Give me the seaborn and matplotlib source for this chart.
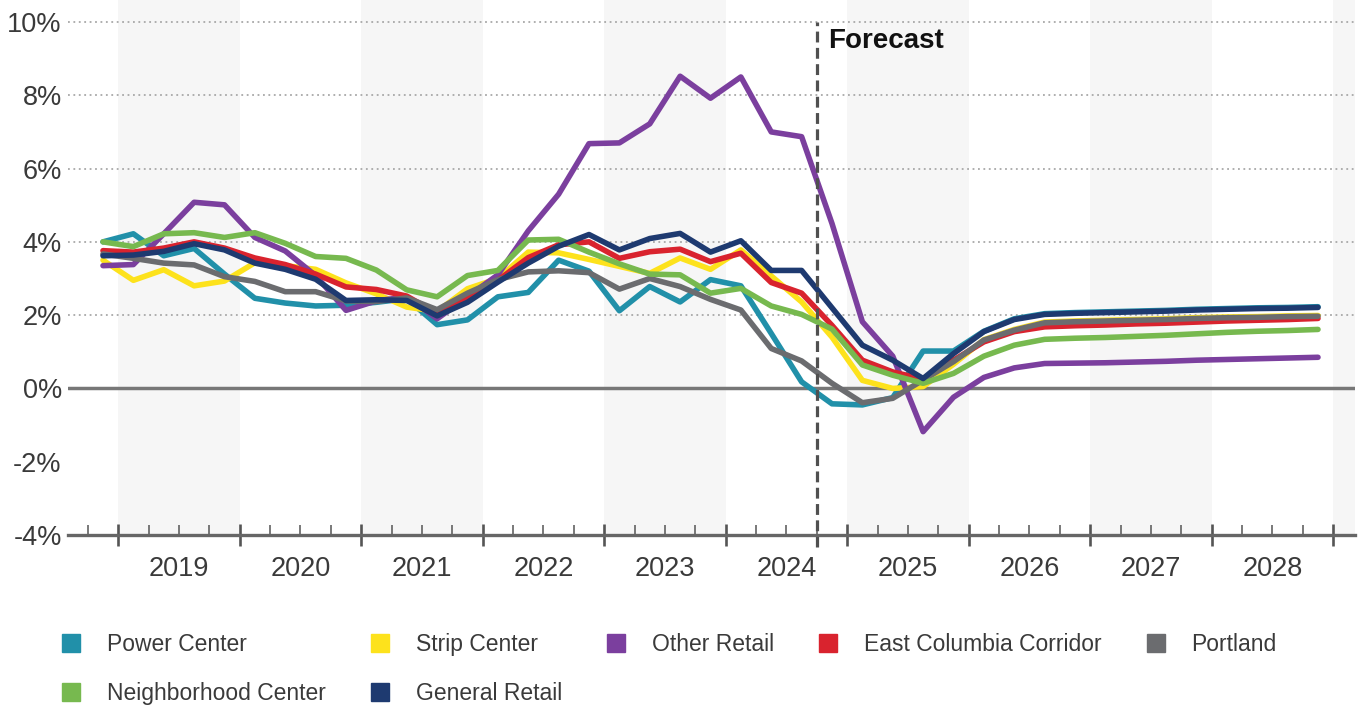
import matplotlib
matplotlib.use("Agg")
import matplotlib.pyplot as plt
from matplotlib.lines import Line2D
from matplotlib.transforms import blended_transform_factory
import pandas as pd
import seaborn as sns

# Quarterly retail rent growth, 2018 Q4 through 2028 Q4 (percent)
periods = pd.period_range("2018Q4", "2028Q4", freq="Q")
years = [2019, 2020, 2021, 2022, 2023, 2024, 2025, 2026, 2027, 2028]
forecast_start = pd.Period("2024Q4", freq="Q")

power_center = [4.00, 4.22, 3.62, 3.82, 3.12, 2.46, 2.33, 2.25, 2.27, 2.35,
                2.45, 1.74, 1.87, 2.50, 2.62, 3.50, 3.20, 2.12, 2.78, 2.36,
                2.97, 2.80, 1.50, 0.18, -0.42, -0.45, -0.25, 1.02, 1.02, 1.56,
                1.90, 2.04, 2.07, 2.09, 2.11, 2.13, 2.16, 2.18, 2.20, 2.21, 2.23]
strip_center = [3.50, 2.95, 3.24, 2.80, 2.93, 3.43, 3.35, 3.25, 2.88, 2.58,
                2.22, 2.10, 2.72, 3.00, 3.72, 3.70, 3.52, 3.33, 3.14, 3.56,
                3.25, 3.78, 3.07, 2.36, 1.40, 0.22, 0.00, 0.05, 0.66, 1.33,
                1.61, 1.81, 1.84, 1.86, 1.88, 1.90, 1.93, 1.95, 1.96, 1.98, 1.99]
other_retail = [3.35, 3.38, 4.22, 5.08, 5.01, 4.12, 3.75, 3.08, 2.13, 2.39,
                2.50, 1.90, 2.50, 3.10, 4.30, 5.30, 6.68, 6.70, 7.22, 8.52,
                7.92, 8.50, 7.00, 6.87, 4.50, 1.82, 0.88, -1.18, -0.24, 0.30,
                0.56, 0.68, 0.69, 0.70, 0.72, 0.74, 0.77, 0.79, 0.81, 0.83, 0.85]
east_columbia = [3.76, 3.72, 3.83, 4.00, 3.83, 3.56, 3.38, 3.12, 2.77, 2.70,
                 2.52, 2.05, 2.50, 2.95, 3.57, 3.92, 4.00, 3.55, 3.73, 3.80,
                 3.46, 3.69, 2.89, 2.60, 1.72, 0.77, 0.45, 0.25, 0.77, 1.27,
                 1.55, 1.68, 1.71, 1.73, 1.76, 1.78, 1.81, 1.84, 1.86, 1.88, 1.91]
portland = [3.67, 3.55, 3.42, 3.37, 3.05, 2.92, 2.64, 2.64, 2.39, 2.37,
            2.47, 2.15, 2.60, 2.97, 3.18, 3.21, 3.16, 2.71, 3.00, 2.78,
            2.43, 2.14, 1.09, 0.75, 0.14, -0.39, -0.27, 0.23, 0.73, 1.32,
            1.59, 1.79, 1.82, 1.84, 1.86, 1.88, 1.91, 1.93, 1.94, 1.96, 1.97]
neighborhood_center = [4.00, 3.87, 4.22, 4.25, 4.12, 4.25, 3.96, 3.60, 3.55, 3.23,
                       2.69, 2.50, 3.08, 3.22, 4.05, 4.07, 3.72, 3.40, 3.12, 3.10,
                       2.60, 2.73, 2.25, 2.02, 1.62, 0.64, 0.36, 0.14, 0.41, 0.88,
                       1.18, 1.34, 1.37, 1.39, 1.42, 1.45, 1.49, 1.53, 1.56, 1.58, 1.61]
general_retail = [3.62, 3.64, 3.74, 3.95, 3.78, 3.42, 3.25, 2.98, 2.40, 2.42,
                  2.40, 1.98, 2.35, 2.90, 3.42, 3.88, 4.20, 3.78, 4.09, 4.23,
                  3.72, 4.03, 3.22, 3.22, 2.20, 1.18, 0.77, 0.27, 0.95, 1.55,
                  1.88, 2.02, 2.05, 2.07, 2.09, 2.11, 2.14, 2.16, 2.18, 2.19, 2.21]

series_names = ["Power Center", "Strip Center", "Other Retail",
                "East Columbia Corridor", "Portland", "Neighborhood Center",
                "General Retail"]
series_values = [power_center, strip_center, other_retail, east_columbia,
                 portland, neighborhood_center, general_retail]
series_colors = ["#2190a9", "#fde21c", "#7b3f9e", "#d9232e", "#6b6c6f",
                 "#77b94f", "#1e3a70"]

# quarter index: 0 = 2018 Q4
start = periods[0]
rows = []
for name, vals in zip(series_names, series_values):
    for p, v in zip(periods, vals):
        rows.append({"q": (p - start).n, "growth": v, "series": name})
df = pd.DataFrame(rows)

sns.set_style("white")
plt.rcParams["font.family"] = ["Liberation Sans", "DejaVu Sans"]

W, H = 1359, 707
fig = plt.figure(figsize=(W / 100, H / 100), dpi=100)
ax = fig.add_axes([68 / W, 1 - 535 / H, (1355 - 68) / W, 535 / H])

x_left, x_right = -1.152, 41.218
ax.set_xlim(x_left, x_right)
ax.set_ylim(-4, 10.6)

# alternating year bands
for k in range(6):
    ax.axvspan(0.5 + 8 * k, 4.5 + 8 * k, color="#f6f6f6", lw=0, zorder=0)

# dotted gridlines and solid zero line
for g in [2, 4, 6, 8, 10]:
    ax.axhline(g, color="#a8a8a8", lw=1.3, ls=(0, (1, 2)), zorder=1)
ax.axhline(0, color="#777777", lw=2.5, zorder=1)

sns.lineplot(data=df, x="q", y="growth", hue="series", hue_order=series_names,
             palette=dict(zip(series_names, series_colors)), linewidth=4.0,
             legend=False, ax=ax, zorder=3, solid_capstyle="round")

# forecast divider
fx = (forecast_start - start).n - 0.5
ax.axvline(fx, ymin=-0.023, ymax=0.959, color="#505050", lw=2.3,
           dashes=(3.4, 1.7), clip_on=False, zorder=4)
ax.text(fx + 0.36, 9.48, "Forecast", fontsize=20, fontweight="bold",
        color="#111111", ha="left", va="center")

# axes styling
for s in ["top", "right", "left"]:
    ax.spines[s].set_visible(False)
ax.spines["bottom"].set_color("#666666")
ax.spines["bottom"].set_linewidth(2.4)
ax.spines["bottom"].set_zorder(5)

major = [0.5 + 4 * k for k in range(11)]
minor = [-0.5 + k for k in range(42) if (-0.5 + k) not in major]
ax.set_xticks(major)
ax.set_xticks(minor, minor=True)
ax.set_xticklabels([])
ax.xaxis.set_ticks_position("bottom")
ax.tick_params(axis="x", which="major", bottom=True, direction="inout",
               length=16, width=1.9, color="#555555")
ax.tick_params(axis="x", which="minor", bottom=True, direction="in",
               length=7.2, width=1.1, color="#555555")
ax.set_xlabel("")
ax.set_ylabel("")

yt = [-4, -2, 0, 2, 4, 6, 8, 10]
ax.set_yticks(yt)
ax.set_yticklabels([f"{v}%" for v in yt])
ax.tick_params(axis="y", length=0, pad=4.5, labelsize=19.5,
               labelcolor="#3a3a3a")

trans = blended_transform_factory(ax.transData, ax.transAxes)
for k, yr in enumerate(years):
    ax.text(2.5 + 4 * k, -0.064, str(yr), transform=trans, ha="center",
            va="center", fontsize=19.5, color="#3a3a3a")

# legend laid out row by row (matplotlib fills columns first)
order = [0, 5, 1, 6, 2, 3, 4]
handles = [Line2D([], [], marker="s", markersize=12.5, linestyle="none",
                  color=series_colors[i]) for i in order]
labels = [series_names[i] for i in order]
fig.legend(handles, labels, loc="upper left",
           bbox_to_anchor=(60 / W, 1 - 633 / H), ncol=5, frameon=False,
           fontsize=16.5, labelcolor="#3a3a3a", handlelength=1.0,
           handletextpad=1.05, columnspacing=1.87, labelspacing=1.12,
           borderpad=0, borderaxespad=0)

fig.savefig("out.png", dpi=100)
